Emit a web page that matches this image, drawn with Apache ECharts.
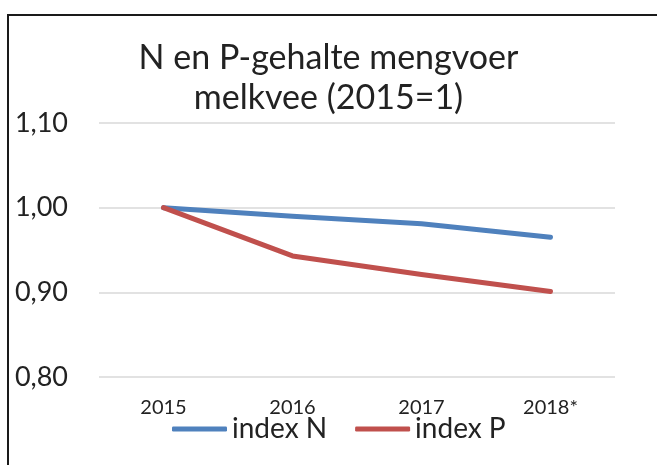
<!DOCTYPE html>
<html>
<head>
<meta charset="utf-8">
<script src="https://cdn.jsdelivr.net/npm/echarts@6/dist/echarts.min.js"></script>
<style>
html,body{margin:0;padding:0;background:#fff;}
#chart{width:657px;height:465px;}
</style>
</head>
<body>
<div id="chart"></div>
<script>
const categories = ['2015', '2016', '2017', '2018*'];
const indexN = [1.000, 0.990, 0.981, 0.965];
const indexP = [1.000, 0.943, 0.921, 0.901];
const seriesNames = ['index N', 'index P'];
const yTicks = { min: 0.8, max: 1.1, interval: 0.1 };

const FONT = 'Lato';
const chart = echarts.init(document.getElementById('chart'));
chart.setOption({
  backgroundColor: '#fff',
  animation: false,
  title: {
    text: 'N en P-gehalte mengvoer\nmelkvee (2015=1)',
    left: 'center',
    top: 38,
    padding: [0, 0, 0, 22],
    textStyle: { fontFamily: FONT, fontSize: 34, fontWeight: 'normal', color: '#222', lineHeight: 40 }
  },
  graphic: [{
    type: 'rect',
    shape: { x: 8, y: 15, width: 700, height: 500 },
    style: { fill: 'none', stroke: '#1a1a1a', lineWidth: 2 },
    silent: true
  }],
  grid: { left: 99, right: 42, top: 123, bottom: 88 },
  legend: {
    left: 172,
    top: 415,
    padding: 0,
    itemWidth: 55,
    itemHeight: 5,
    itemGap: 28,
    icon: 'roundRect',
    textStyle: { fontFamily: FONT, fontSize: 28, color: '#222', padding: [0, 0, 0, 0] },
    data: seriesNames
  },
  xAxis: {
    type: 'category',
    data: categories,
    boundaryGap: true,
    axisLine: { show: false },
    axisTick: { show: false },
    axisLabel: { fontFamily: FONT, fontSize: 20, color: '#222', margin: 21 }
  },
  yAxis: {
    type: 'value',
    min: yTicks.min,
    max: yTicks.max,
    interval: yTicks.interval,
    axisLine: { show: false },
    axisTick: { show: false },
    splitLine: { lineStyle: { color: '#d9d9d9', width: 1.5 } },
    axisLabel: {
      fontFamily: FONT, fontSize: 27, color: '#222', margin: 31,
      formatter: v => v.toFixed(2).replace('.', ',')
    }
  },
  series: [
    {
      name: seriesNames[0], type: 'line', data: indexN, symbol: 'none',
      itemStyle: { color: '#4F81BD' },
      lineStyle: { color: '#4F81BD', width: 5, cap: 'round', join: 'round' }
    },
    {
      name: seriesNames[1], type: 'line', data: indexP, symbol: 'none',
      itemStyle: { color: '#C0504D' },
      lineStyle: { color: '#C0504D', width: 5, cap: 'round', join: 'round' }
    }
  ]
});
</script>
</body>
</html>
